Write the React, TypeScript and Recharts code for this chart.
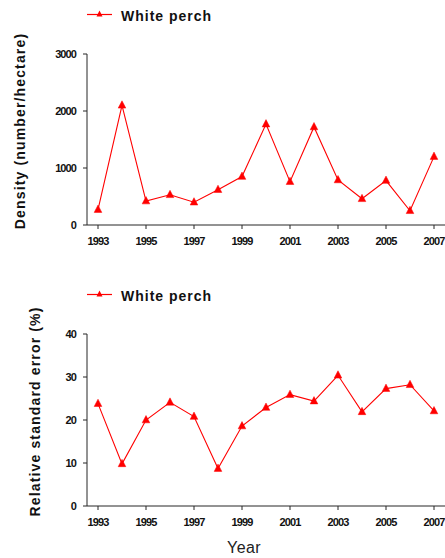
import React from 'react';
import { LineChart, Line, XAxis, YAxis, Legend, Label } from 'recharts';

const years = [1993, 1994, 1995, 1996, 1997, 1998, 1999, 2000, 2001, 2002, 2003, 2004, 2005, 2006, 2007];
const densityValues = [270, 2100, 420, 530, 400, 620, 850, 1770, 760, 1720, 790, 460, 780, 250, 1200];
const rseValues = [23.8, 9.8, 20.0, 24.1, 20.8, 8.7, 18.6, 22.9, 25.9, 24.4, 30.4, 21.9, 27.3, 28.2, 22.1];
const yearTicks = [1993, 1995, 1997, 1999, 2001, 2003, 2005, 2007];
const densityTicks = [0, 1000, 2000, 3000];
const rseTicks = [0, 10, 20, 30, 40];
const seriesName = 'White perch';

const data = years.map((year, i) => ({ year, density: densityValues[i], rse: rseValues[i] }));

const FONT = '"Liberation Sans", Arial, Helvetica, sans-serif';
const RED = '#ff0000';
const AXIS = '#262626';

const tickStyle = { fill: '#111', fontSize: 11, fontWeight: 700, fontFamily: FONT, letterSpacing: -0.9 };

// filled triangle marker
const TriangleDot = (props: any) => {
  const { cx, cy, index } = props;
  if (cx == null || cy == null) return null;
  return (
    <polygon
      key={index}
      points={`${cx},${cy - 4.5} ${cx - 3.8},${cy + 2.8} ${cx + 3.8},${cy + 2.8}`}
      fill={RED}
      stroke={RED}
      strokeWidth={0.5}
    />
  );
};

const LegendContent = () => (
  <svg width={160} height={24} style={{ display: 'block' }}>
    <line x1={0} x2={25} y1={14.5} y2={14.5} stroke={RED} strokeWidth={1.2} />
    <polygon points="12.5,10.5 9.5,16.5 15.5,16.5" fill={RED} />
    <text x={34} y={20.7} fontFamily={FONT} fontSize={14} fontWeight={700} letterSpacing={1} fill="#111">
      {seriesName}
    </text>
  </svg>
);

interface PanelProps {
  dataKey: string;
  ticks: number[];
  yMax: number;
  title: string;
  titleX: number;
  titleY: number;
  height: number;
  bottom: number;
  showYear?: boolean;
}

const Panel: React.FC<PanelProps> = ({ dataKey, ticks, yMax, title, titleX, titleY, height, bottom, showYear }) => (
  <LineChart width={445} height={height} data={data} margin={{ top: 54, right: 0, left: 0, bottom }}>
    <Legend
      layout="horizontal"
      verticalAlign="middle"
      align="center"
      wrapperStyle={{ left: 87, top: 0, width: 160, height: 24 }}
      content={LegendContent}
    />
    <XAxis
      dataKey="year"
      type="number"
      domain={[1993, 2007]}
      ticks={yearTicks}
      padding={{ left: 11, right: 11 }}
      height={30}
      tickSize={4}
      tickMargin={8}
      stroke={AXIS}
      tick={tickStyle}
      interval={0}
      allowDecimals={false}
    >
      {showYear && (
        <Label
          content={() => (
            <text x={244} y={273} textAnchor="middle" fontFamily={FONT} fontSize={16} letterSpacing={0.4} fill="#222">
              Year
            </text>
          )}
        />
      )}
    </XAxis>
    <YAxis
      type="number"
      domain={[0, yMax]}
      ticks={ticks}
      width={87}
      tickSize={4}
      tickMargin={7}
      stroke={AXIS}
      tick={tickStyle}
      interval={0}
    >
      <Label
        content={() => (
          <text
            x={titleX}
            y={titleY}
            textAnchor="middle"
            transform={`rotate(-90 ${titleX} ${titleY})`}
            fontFamily={FONT}
            fontSize={14}
            fontWeight={700}
            letterSpacing={1.15}
            fill="#111"
          >
            {title}
          </text>
        )}
      />
    </YAxis>
    <Line
      type="linear"
      dataKey={dataKey}
      stroke={RED}
      strokeWidth={1.1}
      dot={TriangleDot}
      activeDot={false}
      isAnimationActive={false}
    />
  </LineChart>
);

export default function App() {
  return (
    <div style={{ position: 'absolute', left: 0, top: 0, width: 445, height: 558, background: '#fff' }}>
      <Panel
        dataKey="density"
        ticks={densityTicks}
        yMax={3000}
        title="Density (number/hectare)"
        titleX={25}
        titleY={131}
        height={280}
        bottom={25}
      />
      <Panel
        dataKey="rse"
        ticks={rseTicks}
        yMax={40}
        title="Relative standard error (%)"
        titleX={39.5}
        titleY={131.5}
        height={278}
        bottom={22}
        showYear
      />
    </div>
  );
}
